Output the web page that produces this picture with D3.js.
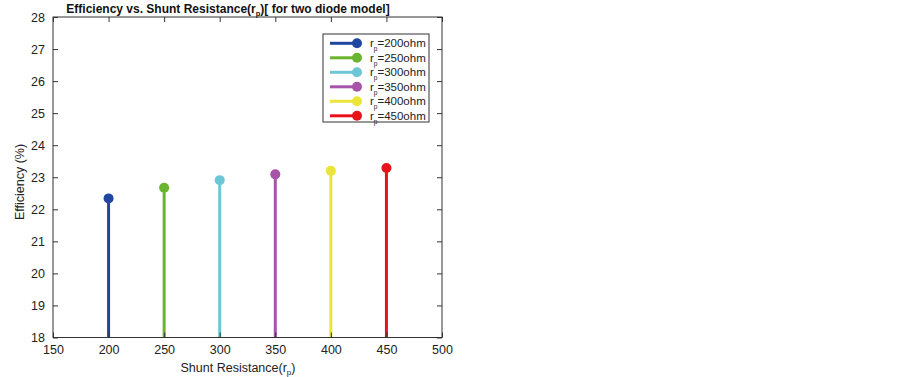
<!DOCTYPE html>
<html><head><meta charset="utf-8">
<script src="https://cdn.jsdelivr.net/npm/d3@7"></script>
<style>body{margin:0;background:#fff;} text{font-family:"Liberation Sans",Arial,sans-serif;}</style>
</head><body><svg id="c" width="903" height="377"></svg>
<script>
const resistances = [200, 250, 300, 350, 400, 450];
const efficiencies = [22.34, 22.67, 22.91, 23.09, 23.20, 23.29];
const labels = ["200ohm","250ohm","300ohm","350ohm","400ohm","450ohm"];
const colors = ["#1f47a0","#69b52d","#6cc6d6","#a653a8","#ebe53a","#e8121b"];
const xTicks = [150,200,250,300,350,400,450,500];
const yTicks = [18,19,20,21,22,23,24,25,26,27,28];

const svg = d3.select("#c");
const L=53, R=442, T=17, B=337.5;
const x = d3.scaleLinear().domain([150,500]).range([L,R]);
const y = d3.scaleLinear().domain([18,28]).range([B,T]);
const axisColor="#333";

const g = svg.append("g");
resistances.forEach((r,i)=>{
  g.append("line").attr("x1",x(r)).attr("x2",x(r)).attr("y1",y(18)).attr("y2",y(efficiencies[i]))
    .attr("stroke",colors[i]).attr("stroke-width",3);
  g.append("circle").attr("cx",x(r)).attr("cy",y(efficiencies[i])).attr("r",5).attr("fill",colors[i]);
});

svg.append("rect").attr("x",L).attr("y",T).attr("width",R-L).attr("height",B-T)
  .attr("fill","none").attr("stroke",axisColor).attr("stroke-width",1);

const xa = svg.append("g").attr("transform",`translate(0,${B})`)
  .call(d3.axisBottom(x).tickValues(xTicks).tickSizeInner(-5).tickSizeOuter(0).tickPadding(8));
const xt = svg.append("g").attr("transform",`translate(0,${T})`)
  .call(d3.axisTop(x).tickValues(xTicks).tickSizeInner(-5).tickSizeOuter(0).tickFormat(""));
const ya = svg.append("g").attr("transform",`translate(${L},0)`)
  .call(d3.axisLeft(y).tickValues(yTicks).tickSizeInner(-5).tickSizeOuter(0).tickPadding(8));
const yr = svg.append("g").attr("transform",`translate(${R},0)`)
  .call(d3.axisRight(y).tickValues(yTicks).tickSizeInner(-5).tickSizeOuter(0).tickFormat(""));
[xa,xt,ya,yr].forEach(a=>{
  a.select(".domain").remove();
  a.selectAll("line").attr("stroke",axisColor);
  a.selectAll("text").attr("fill","#222").style("font-size","12.5px").style("font-family","'Liberation Sans',Arial,sans-serif");
});

const title = svg.append("text").attr("x",228).attr("y",13).attr("text-anchor","middle")
  .style("font-size","12px").style("font-weight","bold").attr("fill","#111");
title.append("tspan").text("Efficiency vs. Shunt Resistance(r");
title.append("tspan").attr("dy",3).style("font-size","7.5px").text("p");
title.append("tspan").attr("dy",-3).text(")[ for two diode model]");

const xl = svg.append("text").attr("x",238).attr("y",372).attr("text-anchor","middle")
  .style("font-size","12.5px").attr("fill","#222");
xl.append("tspan").text("Shunt Resistance(r");
xl.append("tspan").attr("dy",3).style("font-size","8px").text("p");
xl.append("tspan").attr("dy",-3).text(")");

svg.append("text").attr("transform","translate(24,182) rotate(-90)").attr("text-anchor","middle")
  .style("font-size","12.5px").attr("fill","#222").text("Efficiency (%)");

const lg = svg.append("g");
lg.append("rect").attr("x",323).attr("y",34).attr("width",106).attr("height",88)
  .attr("fill","#fff").attr("stroke",axisColor).attr("stroke-width",1);
labels.forEach((lab,i)=>{
  const yy = 43.3 + i*14.5;
  lg.append("line").attr("x1",330).attr("x2",356).attr("y1",yy).attr("y2",yy)
    .attr("stroke",colors[i]).attr("stroke-width",3);
  lg.append("circle").attr("cx",357).attr("cy",yy).attr("r",5).attr("fill",colors[i]);
  const t = lg.append("text").attr("x",370).attr("y",yy+4).style("font-size","11.5px").attr("fill","#222");
  t.append("tspan").text("r");
  t.append("tspan").attr("dy",4).style("font-size","6.5px").text("p");
  t.append("tspan").attr("dy",-4).text("=" + lab);
});
</script></body></html>
